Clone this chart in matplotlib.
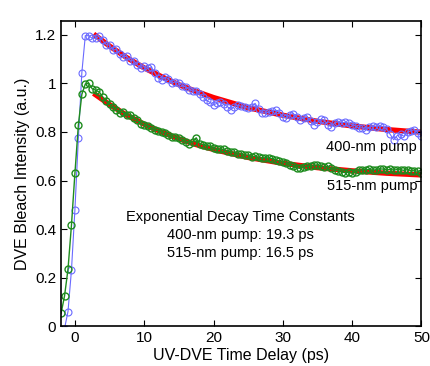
#!/usr/bin/env python3

import numpy as np
import matplotlib
matplotlib.use("Agg")
import matplotlib.pyplot as plt
from matplotlib.ticker import FuncFormatter

plt.rcParams['font.family'] = ['Liberation Sans', 'DejaVu Sans']

# 400-nm pump data (blue), 0.5 ps steps
t_blue = np.arange(-1.5, 50.01, 0.5)
y_blue = [
    -0.01, 0.06, 0.23, 0.48, 0.775, 1.045, 1.197, 1.197, 1.186,
    1.186, 1.195, 1.178, 1.160, 1.158, 1.138, 1.140, 1.120, 1.110, 1.112,
    1.093, 1.094, 1.076, 1.065, 1.070, 1.062, 1.068, 1.045, 1.022, 1.014,
    1.025, 1.020, 1.000, 1.008, 1.002, 0.990, 0.986, 0.975, 0.968, 0.970,
    0.955, 0.945, 0.930, 0.922, 0.912, 0.918, 0.922, 0.915, 0.905, 0.892,
    0.905, 0.910, 0.906, 0.902, 0.898, 0.905, 0.918, 0.895, 0.880, 0.878,
    0.882, 0.888, 0.890, 0.880, 0.862, 0.858, 0.872, 0.876, 0.862, 0.850,
    0.858, 0.862, 0.845, 0.830, 0.840, 0.852, 0.848, 0.828, 0.822, 0.838,
    0.842, 0.838, 0.840, 0.836, 0.830, 0.825, 0.815, 0.818, 0.808, 0.820,
    0.825, 0.822, 0.826, 0.822, 0.812, 0.790, 0.768, 0.785, 0.790, 0.782,
    0.800, 0.805, 0.810, 0.795, 0.782,
]

# 515-nm pump data (green), 0.5 ps steps
t_green = np.arange(-2.0, 50.01, 0.5)
y_green = [
    0.052, 0.124, 0.234, 0.416, 0.630, 0.830, 0.955, 0.998, 1.000, 0.978,
    0.972, 0.965, 0.945, 0.928, 0.915, 0.902, 0.890, 0.880, 0.882, 0.872,
    0.868, 0.856, 0.848, 0.834, 0.828, 0.826, 0.815, 0.808, 0.806, 0.800,
    0.794, 0.786, 0.780, 0.778, 0.775, 0.768, 0.760, 0.752, 0.760, 0.776,
    0.752, 0.748, 0.744, 0.742, 0.735, 0.728, 0.730, 0.728, 0.722, 0.718,
    0.716, 0.710, 0.708, 0.704, 0.705, 0.698, 0.700, 0.695, 0.692, 0.694,
    0.693, 0.690, 0.684, 0.680, 0.676, 0.672, 0.665, 0.660, 0.652, 0.650,
    0.655, 0.658, 0.660, 0.662, 0.665, 0.660, 0.655, 0.658, 0.650, 0.645,
    0.640, 0.636, 0.632, 0.634, 0.630, 0.636, 0.642, 0.644, 0.645, 0.646,
    0.642, 0.645, 0.648, 0.647, 0.644, 0.646, 0.643, 0.645, 0.644, 0.642,
    0.645, 0.641, 0.640, 0.638, 0.630,
]

# exponential fits (red)
t_fit = [3, 5, 7.5, 10, 12.5, 15, 17.5, 20, 25, 30, 35, 40, 45, 50]
fit_blue = [1.197, 1.154, 1.106, 1.064, 1.028, 0.995, 0.967, 0.942,
            0.900, 0.869, 0.844, 0.825, 0.810, 0.799]
fit_green = [0.953, 0.913, 0.869, 0.832, 0.800, 0.772, 0.748, 0.728,
             0.695, 0.671, 0.653, 0.640, 0.630, 0.623]

blue = '#6a6aff'
green = '#1e8c1e'

fig = plt.figure(figsize=(4.3, 3.66), dpi=100)
ax = fig.add_axes([0.142, 0.109, 0.838, 0.834])

ax.plot(t_fit, fit_blue, color='red', lw=3.8, zorder=1)
ax.plot(t_fit, fit_green, color='red', lw=3.8, zorder=1)
ax.plot(t_blue, y_blue, color=blue, lw=0.8, marker='o', ms=5,
        mfc='none', mec=blue, mew=0.8, zorder=2)
ax.plot(t_green, y_green, color=green, lw=1.0, marker='o', ms=5,
        mfc='none', mec=green, mew=1.0, zorder=2)

ax.set_xlim(-2, 50)
ax.set_ylim(0, 1.258)
ax.set_xticks([0, 10, 20, 30, 40, 50])
ax.set_yticks([0, 0.2, 0.4, 0.6, 0.8, 1.0, 1.2])
ax.yaxis.set_major_formatter(FuncFormatter(lambda v, p: '%g' % round(v, 2)))
ax.tick_params(direction='in', top=True, right=True, labelsize=11,
               length=4, width=0.8)
for s in ax.spines.values():
    s.set_linewidth(1.2)

ax.set_xlabel('UV-DVE Time Delay (ps)', fontsize=11.5, labelpad=2)
ax.set_ylabel('DVE Bleach Intensity (a.u.)', fontsize=11.5, labelpad=4)

ax.text(49.4, 0.739, '400-nm pump', ha='right', va='center', fontsize=10.5)
ax.text(49.4, 0.577, '515-nm pump', ha='right', va='center', fontsize=10.5)
ax.text(23.9, 0.375, 'Exponential Decay Time Constants\n'
        '400-nm pump: 19.3 ps\n515-nm pump: 16.5 ps',
        ha='center', va='center', fontsize=10.5, linespacing=1.35)

fig.savefig('out.png', dpi=100)
